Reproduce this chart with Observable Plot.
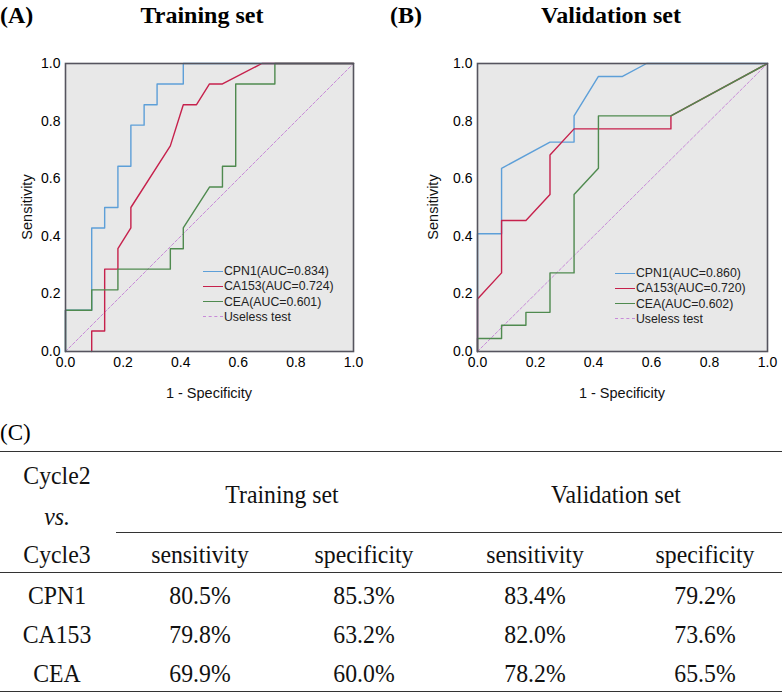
<!DOCTYPE html>
<html>
<head>
<meta charset="utf-8">
<script src="https://cdn.jsdelivr.net/npm/d3@7"></script>
<script src="https://cdn.jsdelivr.net/npm/@observablehq/plot@0.6"></script>
<style>
  html, body { margin: 0; padding: 0; background: #fff; }
  #root { position: relative; width: 782px; height: 694px; overflow: hidden; }
  .abs { position: absolute; white-space: nowrap; }
  .ttl { font-family: "Liberation Serif", "DejaVu Serif", serif; font-weight: bold; font-size: 24px; color: #000; line-height: 1; }
  .axl { font-family: "Liberation Sans", Arial, sans-serif; font-size: 14.5px; color: #111; line-height: 1; }
  .leg { font-family: "Liberation Sans", Arial, sans-serif; font-size: 13.5px; color: #222; line-height: 1; transform: scaleX(0.91); transform-origin: left center; }
  .tbl { font-family: "Liberation Serif", "Times New Roman", serif; font-size: 25px; color: #111; line-height: 1; transform: translate(-50%, -50%) scaleX(0.95); }
  .hr { position: absolute; height: 0; border-top: 1.8px solid #333; }
</style>
</head>
<body>
<div id="root"></div>
<script>
// ---------- data ----------
const seriesNames = ["CPN1", "CA153", "CEA"];
const seriesColors = ["#5d9fd8", "#c6214c", "#4f8a4f"];
const ticks = [0, 0.2, 0.4, 0.6, 0.8, 1.0];

// Training set ROC points (1 - specificity, sensitivity)
const trainCPN1_x = [0, 0, 0.091, 0.091, 0.136, 0.136, 0.182, 0.182, 0.227, 0.227, 0.273, 0.273, 0.318, 0.318, 0.409, 0.409, 1];
const trainCPN1_y = [0, 0.143, 0.143, 0.429, 0.429, 0.5, 0.5, 0.643, 0.643, 0.786, 0.786, 0.857, 0.857, 0.929, 0.929, 1, 1];
const trainCA153_x = [0.091, 0.091, 0.136, 0.136, 0.182, 0.182, 0.227, 0.227, 0.364, 0.409, 0.455, 0.5, 0.545, 0.682, 1];
const trainCA153_y = [0, 0.071, 0.071, 0.286, 0.286, 0.357, 0.429, 0.5, 0.714, 0.857, 0.857, 0.929, 0.929, 1, 1];
const trainCEA_x = [0, 0, 0.091, 0.091, 0.182, 0.182, 0.364, 0.364, 0.409, 0.409, 0.5, 0.545, 0.545, 0.591, 0.591, 0.727, 0.727, 1];
const trainCEA_y = [0, 0.143, 0.143, 0.214, 0.214, 0.286, 0.286, 0.357, 0.357, 0.429, 0.571, 0.571, 0.643, 0.643, 0.929, 0.929, 1, 1];
const trainAUC = ["0.834", "0.724", "0.601"];

// Validation set ROC points
const valCPN1_x = [0, 0, 0.083, 0.083, 0.25, 0.333, 0.333, 0.417, 0.5, 0.583, 1];
const valCPN1_y = [0, 0.409, 0.409, 0.636, 0.727, 0.727, 0.818, 0.955, 0.955, 1, 1];
const valCA153_x = [0, 0, 0.083, 0.083, 0.167, 0.25, 0.25, 0.333, 0.667, 0.667, 1];
const valCA153_y = [0, 0.182, 0.273, 0.455, 0.455, 0.545, 0.682, 0.773, 0.773, 0.818, 1];
const valCEA_x = [0, 0, 0.083, 0.083, 0.167, 0.167, 0.25, 0.25, 0.333, 0.333, 0.417, 0.417, 0.667, 1];
const valCEA_y = [0, 0.045, 0.045, 0.091, 0.091, 0.136, 0.136, 0.273, 0.273, 0.545, 0.636, 0.818, 0.818, 1];
const valAUC = ["0.860", "0.720", "0.602"];

const diagonal_x = [0, 1];
const diagonal_y = [0, 1];

// Table (C)
const tableCorner = ["Cycle2", "vs.", "Cycle3"];
const tableGroups = ["Training set", "Validation set"];
const tableSub = ["sensitivity", "specificity", "sensitivity", "specificity"];
const tableRows = ["CPN1", "CA153", "CEA"];
const tableValues = [
  ["80.5%", "85.3%", "83.4%", "79.2%"],
  ["79.8%", "63.2%", "82.0%", "73.6%"],
  ["69.9%", "60.0%", "78.2%", "65.5%"]
];

// ---------- helpers ----------
const root = document.getElementById("root");
function addDiv(cls, text, left, top, extra) {
  const d = document.createElement("div");
  d.className = "abs " + cls;
  d.textContent = text;
  d.style.left = left + "px";
  d.style.top = top + "px";
  if (extra) Object.assign(d.style, extra);
  root.appendChild(d);
  return d;
}
function toRows(name, xs, ys) {
  return xs.map((x, i) => ({series: name, x, y: ys[i]}));
}

function makePanel(cfg) {
  const curves = [
    ...toRows("CPN1", cfg.cpn1[0], cfg.cpn1[1]),
    ...toRows("CA153", cfg.ca153[0], cfg.ca153[1]),
    ...toRows("CEA", cfg.cea[0], cfg.cea[1])
  ];
  const diag = toRows("Useless test", diagonal_x, diagonal_y);
  const svg = Plot.plot({
    width: cfg.width,
    height: 400,
    marginTop: 63,
    marginBottom: 49,
    marginLeft: cfg.marginLeft,
    marginRight: cfg.marginRight,
    style: {fontFamily: "'Liberation Sans', Arial, sans-serif", fontSize: "14px", color: "#000", background: "transparent"},
    x: {domain: [0, 1], label: null},
    y: {domain: [0, 1], label: null},
    color: {domain: seriesNames, range: seriesColors},
    marks: [
      Plot.frame({fill: "#e8e8e8", stroke: null}),
      Plot.line(diag, {x: "x", y: "y", stroke: "#c88bd8", strokeWidth: 1, strokeDasharray: "3,2"}),
      Plot.line(curves, {x: "x", y: "y", z: "series", stroke: "series", strokeWidth: 1.4}),
      Plot.frame({stroke: "#55545e", strokeWidth: 1.6}),
      Plot.axisX({ticks, tickFormat: d3.format(".1f"), tickSize: 0, tickPadding: 6, fontSize: 14, label: null}),
      Plot.axisY({ticks, tickFormat: d3.format(".1f"), tickSize: 0, tickPadding: 5, fontSize: 14, label: null})
    ]
  });
  svg.style.position = "absolute";
  svg.style.left = cfg.left + "px";
  svg.style.top = "0px";
  root.appendChild(svg);

  // titles
  addDiv("ttl", cfg.tag, cfg.left + 0, 3);
  addDiv("ttl", cfg.title, cfg.titleX, 3, {transform: "translateX(-50%)"});

  // axis labels
  const fl = cfg.left + cfg.marginLeft, fr = cfg.left + cfg.width - cfg.marginRight;
  addDiv("axl", "1 - Specificity", (fl + fr) / 2, 386, {transform: "translateX(-50%)"});
  addDiv("axl", "Sensitivity", cfg.ylabelX, 207, {transform: "translate(-50%, -50%) rotate(-90deg)"});

  // legend (inside plot)
  const labels = seriesNames.map((s, i) => `${s}(AUC=${cfg.auc[i]})`).concat(["Useless test"]);
  const colors = seriesColors.concat(["#c88bd8"]);
  labels.forEach((lab, i) => {
    const y = cfg.legY + i * 15.3;
    const sw = document.createElement("div");
    sw.className = "abs";
    sw.style.left = cfg.legX + "px";
    sw.style.top = (y - 0.5) + "px";
    sw.style.width = "20px";
    sw.style.height = "0px";
    sw.style.borderTop = (i === 3 ? "1px dashed " : "1.2px solid ") + colors[i];
    root.appendChild(sw);
    addDiv("leg", lab, cfg.legX + 21, y - 7);
  });
}

makePanel({
  left: 0, width: 390, marginLeft: 65, marginRight: 37,
  cpn1: [trainCPN1_x, trainCPN1_y], ca153: [trainCA153_x, trainCA153_y], cea: [trainCEA_x, trainCEA_y],
  auc: trainAUC, tag: "(A)", title: "Training set", titleX: 202, ylabelX: 27,
  legX: 203, legY: 271
});
makePanel({
  left: 390, width: 392, marginLeft: 87, marginRight: 15,
  cpn1: [valCPN1_x, valCPN1_y], ca153: [valCA153_x, valCA153_y], cea: [valCEA_x, valCEA_y],
  auc: valAUC, tag: "(B)", title: "Validation set", titleX: 611, ylabelX: 433,
  legX: 615, legY: 273
});

// ---------- table (C) ----------
const tag = addDiv("ttl", "(C)", 0, 421);
tag.style.fontWeight = "normal";
tag.style.fontSize = "23px";

function hline(x1, x2, y) {
  const d = document.createElement("div");
  d.className = "hr";
  d.style.left = x1 + "px";
  d.style.width = (x2 - x1) + "px";
  d.style.top = y + "px";
  root.appendChild(d);
}
hline(0, 782, 451);
hline(116, 782, 532);
hline(0, 782, 572);
hline(0, 782, 691);

const col0 = 57;
const colX = [200, 364, 535, 705];
const groupX = [282, 616];
const cornerY = [475, 516, 554];
const subY = 554;
const groupY = 494;
const rowY = [595, 634, 673];

tableCorner.forEach((t, i) => {
  const d = addDiv("tbl", t, col0, cornerY[i]);
  if (t === "vs.") d.style.fontStyle = "italic";
});
tableGroups.forEach((g, i) => addDiv("tbl", g, groupX[i], groupY));
tableSub.forEach((s, i) => addDiv("tbl", s, colX[i], subY));
tableRows.forEach((r, i) => {
  addDiv("tbl", r, col0, rowY[i]);
  tableValues[i].forEach((v, j) => addDiv("tbl", v, colX[j], rowY[i]));
});
</script>
</body>
</html>
